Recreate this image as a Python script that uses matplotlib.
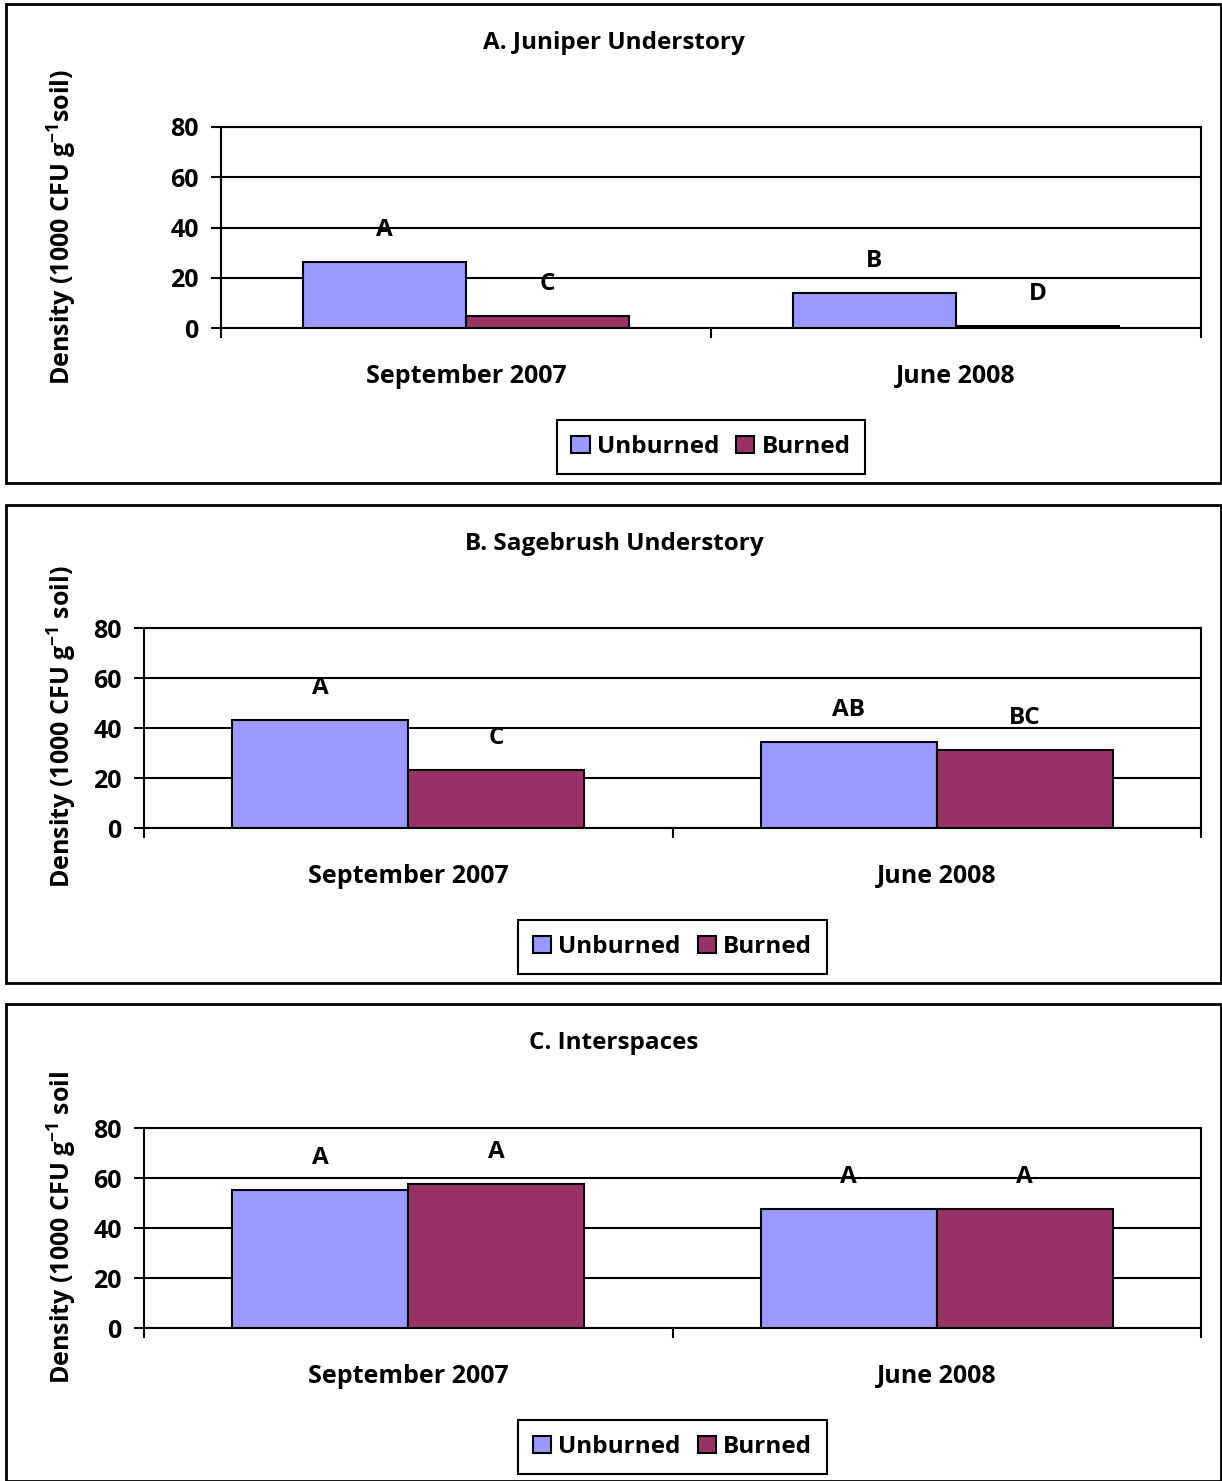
import matplotlib.pyplot as plt
from matplotlib.patches import Rectangle

plt.rcParams['font.family'] = ['Open Sans', 'DejaVu Sans']
plt.rcParams['font.weight'] = 'bold'
plt.rcParams['mathtext.fontset'] = 'custom'
plt.rcParams['mathtext.rm'] = 'Open Sans:bold'
plt.rcParams['mathtext.it'] = 'Open Sans:bold'
plt.rcParams['mathtext.bf'] = 'Open Sans:bold'

# Data
periods = ["September 2007", "June 2008"]
titles = ["A. Juniper Understory", "B. Sagebrush Understory", "C. Interspaces"]
unburned = [[26.3, 13.9], [43.2, 34.4], [55.2, 47.6]]
burned = [[4.8, 0.8], [23.2, 31.2], [57.6, 47.6]]
letters_unburned = [["A", "B"], ["A", "AB"], ["A", "A"]]
letters_burned = [["C", "D"], ["C", "BC"], ["A", "A"]]
ylabels = [r"Density (1000 CFU g$^{-1}$soil)",
           r"Density (1000 CFU g$^{-1}$ soil)",
           r"Density (1000 CFU g$^{-1}$ soil"]

W, H = 1222, 1481
fig = plt.figure(figsize=(W / 100, H / 100), dpi=100)

def fx(x):
    return x / W

def fy(y):
    return 1 - y / H

# panel layout in pixels: border top/bottom, axes left/top/bottom
panels = [
    dict(top=4, bottom=483, left=221, atop=127, abot=328),
    dict(top=505, bottom=983, left=144, atop=628, abot=828),
    dict(top=1004, bottom=1481, left=144, atop=1128, abot=1328),
]
right = 1201
c_unb = "#9999FF"
c_bur = "#993366"
w = 1 / 3

for i, p in enumerate(panels):
    fig.patches.append(Rectangle((fx(6), fy(p['bottom'])), fx(1215), (p['bottom'] - p['top']) / H,
                                 transform=fig.transFigure, fill=False, edgecolor='black', lw=2))
    fig.text(fx(614), fy(p['top'] + 39), titles[i], ha='center', va='center', fontsize=17.5,
             fontweight='bold')

    ax = fig.add_axes([fx(p['left']), fy(p['abot']), fx(right - p['left']), (p['abot'] - p['atop']) / H])
    x = [0.5, 1.5]
    ax.bar([v - w / 2 for v in x], unburned[i], width=w, color=c_unb, edgecolor='black', lw=1.5,
           label='Unburned', zorder=3)
    ax.bar([v + w / 2 for v in x], burned[i], width=w, color=c_bur, edgecolor='black', lw=1.5,
           label='Burned', zorder=3)
    for j in range(2):
        ax.text(x[j] - w / 2, unburned[i][j] + 12.8, letters_unburned[i][j], ha='center', va='center',
                fontsize=17.5, fontweight='bold')
        ax.text(x[j] + w / 2, burned[i][j] + 12.8, letters_burned[i][j], ha='center', va='center',
                fontsize=17.5, fontweight='bold')

    ax.set_xlim(0, 2)
    ax.set_ylim(0, 80)
    ax.set_yticks([0, 20, 40, 60, 80])
    ax.yaxis.grid(True, color='black', lw=1.5, zorder=0)
    ax.set_axisbelow(True)
    ax.set_xticks([0, 1, 2])
    ax.set_xticklabels(['', '', ''])
    ax.set_xticks(x, minor=True)
    ax.set_xticklabels(periods, minor=True)
    ax.tick_params(axis='x', which='major', length=7, width=1.5, direction='out')
    ax.tick_params(axis='x', which='minor', length=0, pad=26, labelsize=18)
    ax.tick_params(axis='y', length=7, width=1.5, direction='out', pad=9, labelsize=18)
    for s in ax.spines.values():
        s.set_linewidth(1.5)
    for lab in ax.get_yticklabels() + ax.get_xticklabels(minor=True):
        lab.set_fontweight('bold')

    fig.text(fx(62), fy((p['atop'] + p['abot']) / 2 - 1), ylabels[i], rotation=90, ha='center',
             va='center', fontsize=18, fontweight='bold')

    leg_cx = (p['left'] + right) / 2
    leg = fig.legend(handles=ax.patches[0:1] + ax.patches[2:3], labels=['Unburned', 'Burned'],
                     loc='center', bbox_to_anchor=(fx(leg_cx), fy(p['abot'] + 119)), ncol=2,
                     fancybox=False, edgecolor='black', framealpha=1, fontsize=17.5,
                     handlelength=0.75, handleheight=0.75, handletextpad=0.3, columnspacing=0.7,
                     borderpad=0.6, borderaxespad=0)
    leg.get_frame().set_linewidth(1.5)

fig.savefig("out.png", dpi=100)
